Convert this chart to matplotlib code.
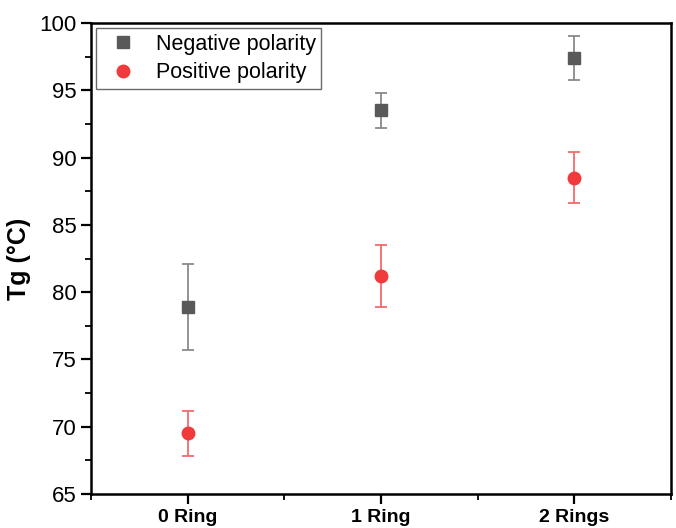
import matplotlib
matplotlib.use("Agg")
import matplotlib.pyplot as plt
from matplotlib.ticker import MultipleLocator

plt.rcParams['font.family'] = ['Liberation Sans', 'DejaVu Sans']

categories = ["0 Ring", "1 Ring", "2 Rings"]
neg_tg = [78.9, 93.5, 97.4]
neg_err = [3.2, 1.3, 1.6]
pos_tg = [69.5, 81.2, 88.5]
pos_err = [1.7, 2.3, 1.9]

x = [1, 2, 3]

fig = plt.figure(figsize=(6.76, 5.28), dpi=100)
ax = fig.add_axes([91 / 676, 1 - 494 / 528, 580 / 676, 471 / 528])

ax.errorbar(x, neg_tg, yerr=neg_err, fmt='s', color='#595959', ms=8,
            ecolor='#8a8a8a', elinewidth=1.3, capsize=4, capthick=1.3,
            label="Negative polarity", zorder=3)
ax.errorbar(x, pos_tg, yerr=pos_err, fmt='o', color='#f03a3c', ms=9,
            ecolor='#f36a6a', elinewidth=1.3, capsize=4, capthick=1.3,
            label="Positive polarity", zorder=3)

ax.set_xlim(0.5, 3.5)
ax.set_ylim(65, 100)
ax.set_xticks(x)
ax.set_xticklabels(categories, fontsize=14, fontweight='bold')
ax.xaxis.set_minor_locator(MultipleLocator(0.5))
ax.yaxis.set_major_locator(MultipleLocator(5))
ax.yaxis.set_minor_locator(MultipleLocator(2.5))
ax.tick_params(axis='y', labelsize=16)
ax.tick_params(which='major', direction='out', length=7, width=1.6)
ax.tick_params(which='minor', direction='out', length=4, width=1.3)
ax.set_ylabel("Tg (°C)", fontsize=18, fontweight='bold', labelpad=6)

for s in ax.spines.values():
    s.set_linewidth(1.8)

handles, labels = ax.get_legend_handles_labels()
handles = [h[0] for h in handles]
leg = ax.legend(handles, labels, loc='upper left', fontsize=15.5, frameon=True,
                fancybox=False, edgecolor='#444444', borderpad=0.25,
                handletextpad=0.5, labelspacing=0.35, borderaxespad=0.25,
                handlelength=2.0)
leg.get_frame().set_linewidth(1.0)

fig.savefig("out.png", dpi=100)
